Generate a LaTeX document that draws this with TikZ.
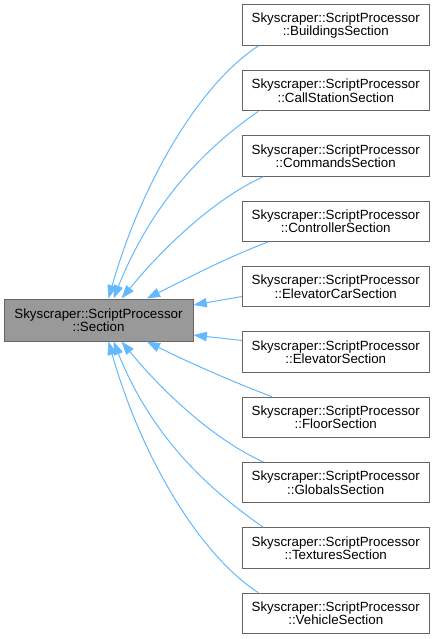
\documentclass[tikz,border=0pt]{standalone}
\usepackage{fontspec}
\setmainfont{Liberation Sans}
\usetikzlibrary{arrows.meta}
\definecolor{edgeblue}{HTML}{63B8FF}
\definecolor{boxline}{HTML}{666666}
\definecolor{basefill}{HTML}{999999}
\begin{document}
\begin{tikzpicture}[x=0.75pt,y=0.75pt,
    cls/.style={draw=boxline,line width=0.75pt,minimum width=139.9pt,minimum height=30.4pt,
        align=center,inner sep=0pt,font=\fontsize{10}{10}\selectfont},
    base/.style={cls,fill=basefill,minimum width=141.75pt,minimum height=31.5pt},
    inh/.style={draw=edgeblue,line width=0.75pt,-{Triangle[length=10pt,width=7pt]}}]
    \useasboundingbox (0,0) rectangle (435,-639);

    \node[base] (sec) at (98.5,-320) {Skyscraper::ScriptProcessor\\::Section};

    \node[cls] (bld) at (335.75,-25.25) {Skyscraper::ScriptProcessor\\::BuildingsSection};
    \node[cls] (cst) at (335.75,-90.6) {Skyscraper::ScriptProcessor\\::CallStationSection};
    \node[cls] (cmd) at (335.75,-155.95) {Skyscraper::ScriptProcessor\\::CommandsSection};
    \node[cls] (ctl) at (335.75,-221.3) {Skyscraper::ScriptProcessor\\::ControllerSection};
    \node[cls] (ecar) at (335.75,-286.65) {Skyscraper::ScriptProcessor\\::ElevatorCarSection};
    \node[cls] (elev) at (335.75,-352) {Skyscraper::ScriptProcessor\\::ElevatorSection};
    \node[cls] (flr) at (335.75,-417.35) {Skyscraper::ScriptProcessor\\::FloorSection};
    \node[cls] (glb) at (335.75,-482.7) {Skyscraper::ScriptProcessor\\::GlobalsSection};
    \node[cls] (tex) at (335.75,-548.05) {Skyscraper::ScriptProcessor\\::TexturesSection};
    \node[cls] (veh) at (335.75,-613.4) {Skyscraper::ScriptProcessor\\::VehicleSection};

    % upper subclasses
    \draw[inh] (bld.195) .. controls +(-60,-39) and +(32,113) .. (sec.65.7);
    \draw[inh] (cst.195.4) .. controls +(-50,-35) and +(40,100) .. (sec.55.4);
    \draw[inh] (cmd.196) .. controls +(-45,-20) and +(45,55) .. (sec.43);
    \draw[inh] (ctl.197.1) .. controls +(-40,-15) and +(40,20) .. (sec.24.3);
    \draw[inh] (ecar.186.3) -- (sec.9);
    % lower subclasses
    \draw[inh] (elev.173.7) -- (sec.-9);
    \draw[inh] (flr.162.9) .. controls +(-40,15) and +(40,-20) .. (sec.-24.3);
    \draw[inh] (glb.164) .. controls +(-45,20) and +(45,-55) .. (sec.-43);
    \draw[inh] (tex.164.6) .. controls +(-50,35) and +(40,-100) .. (sec.-55.4);
    \draw[inh] (veh.165) .. controls +(-60,39) and +(32,-113) .. (sec.-65.7);
\end{tikzpicture}
\end{document}
